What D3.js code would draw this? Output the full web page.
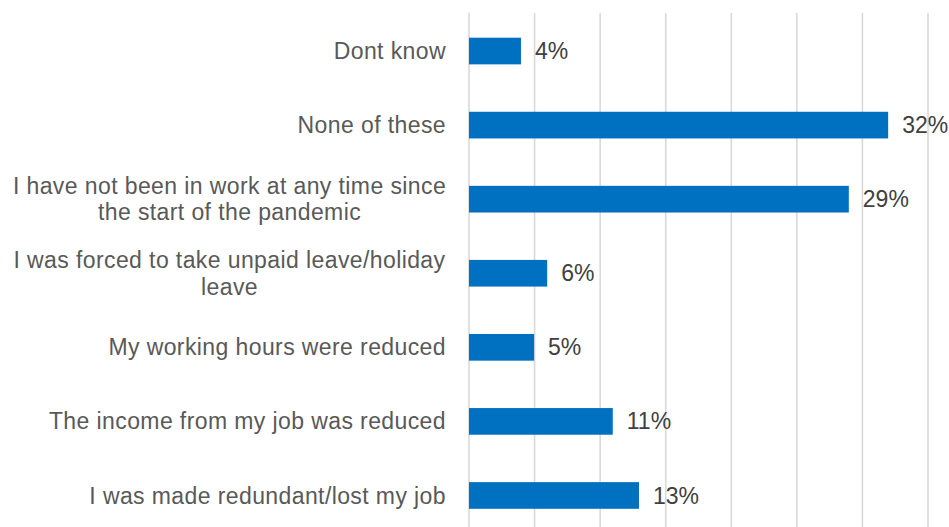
<!DOCTYPE html>
<html>
<head>
<meta charset="utf-8">
<script src="https://cdn.jsdelivr.net/npm/d3@7"></script>
<style>
  html, body { margin: 0; padding: 0; background: #ffffff; }
  svg { display: block; }
  text { font-family: "Liberation Sans", Arial, sans-serif; }
</style>
</head>
<body>
<svg id="chart" width="949" height="527"></svg>
<script>
// Survey answers, top to bottom; "\n" marks a line break in the label
const categories = [
  "Dont know",
  "None of these",
  "I have not been in work at any time since\nthe start of the pandemic",
  "I was forced to take unpaid leave/holiday\nleave",
  "My working hours were reduced",
  "The income from my job was reduced",
  "I was made redundant/lost my job"
];
// Share of respondents, percent
const values = [4, 32, 29, 6, 5, 11, 13];
// Gridline positions, percent
const gridTicks = [0, 5, 10, 15, 20, 25, 30, 35];

const svg = d3.select("#chart");

const x = d3.scaleLinear().domain([0, 35]).range([468.5, 927.5]);
const y = d3.scaleBand()
  .domain(categories)
  .range([14, 532.5])
  .paddingInner(0.64)
  .paddingOuter(0.32);

// Vertical gridlines
svg.append("g")
  .attr("transform", `translate(0,${13})`)
  .call(d3.axisBottom(x).tickValues(gridTicks).tickSize(527 - 13).tickFormat(""))
  .call(g => g.select(".domain").remove())
  .call(g => g.selectAll(".tick line")
    .attr("stroke", "#d9d9d9")
    .attr("stroke-width", 1.6));

// Bars
svg.append("g").selectAll("rect")
  .data(categories)
  .join("rect")
  .attr("x", x(0) + 0.5)
  .attr("y", d => y(d))
  .attr("width", (d, i) => x(values[i]) - x(0) - 0.5)
  .attr("height", y.bandwidth())
  .attr("fill", "#0070c0");

// Value labels
svg.append("g").selectAll("text")
  .data(categories)
  .join("text")
  .attr("x", (d, i) => x(values[i]) + 14)
  .attr("y", d => y(d) + y.bandwidth() / 2)
  .attr("dy", "0.35em")
  .attr("font-size", 23)
  .attr("fill", "#404040")
  .text((d, i) => values[i] + "%");

// Category labels, right aligned against the axis
const fontSize = 23;
const lineHeight = 26.5;
const labels = svg.append("g").selectAll("text")
  .data(categories)
  .join("text")
  .attr("font-size", fontSize)
  .attr("letter-spacing", 0.4)
  .attr("fill", "#595959")
  .attr("y", d => y(d) + y.bandwidth() / 2);

labels.each(function (d) {
  const lines = d.split("\n");
  const t = d3.select(this);
  const cx = 229.5;
  lines.forEach((line, k) => {
    t.append("tspan")
      .attr("x", lines.length > 1 ? cx : 446)
      .attr("text-anchor", lines.length > 1 ? "middle" : "end")
      .attr("dy", k === 0 ? `${0.35 * fontSize - (lines.length - 1) * lineHeight / 2}px` : `${lineHeight}px`)
      .text(line);
  });
});
</script>
</body>
</html>
